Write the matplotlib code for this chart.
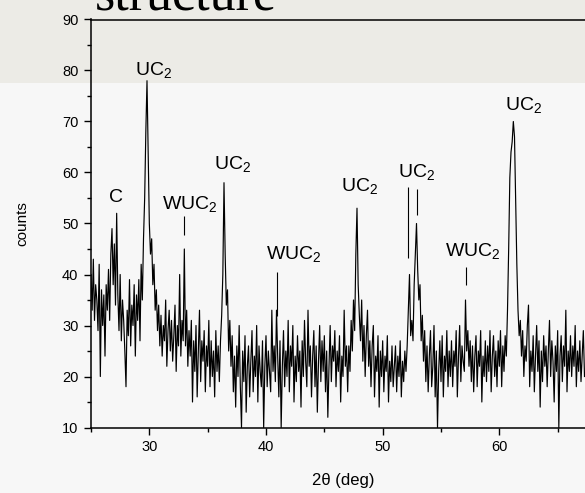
import numpy as np
import matplotlib
matplotlib.use("Agg")
import matplotlib.pyplot as plt
from matplotlib.patches import Rectangle

plt.rcParams['font.family'] = ['Liberation Sans', 'DejaVu Sans']
plt.rcParams['mathtext.fontset'] = 'custom'
plt.rcParams['mathtext.rm'] = 'Liberation Sans'
plt.rcParams['mathtext.default'] = 'regular'

# XRD scan, 0.1 deg steps from 25.0 to 67.3 (one row per degree)
counts = [
    40, 33, 43, 31, 38, 35, 29, 42, 20, 37,  # 25
    30, 36, 24, 38, 33, 41, 31, 44, 49, 38,  # 26
    46, 34, 52, 36, 29, 40, 27, 35, 31, 25,  # 27
    18, 33, 28, 39, 26, 34, 30, 38, 24, 36,  # 28
    31, 39, 27, 42, 35, 47, 55, 68, 78, 64,  # 29
    50, 44, 47, 38, 42, 33, 37, 29, 34, 26,  # 30
    32, 24, 30, 27, 35, 22, 29, 33, 25, 31,  # 31
    23, 28, 34, 21, 30, 26, 40, 24, 31, 27,  # 32
    45, 26, 33, 22, 29, 24, 31, 15, 27, 21,  # 33
    30, 16, 25, 33, 19, 27, 23, 29, 17, 26,  # 34
    22, 31, 18, 27, 20, 25, 16, 29, 21, 26,  # 35
    19, 27, 32, 40, 58, 44, 34, 37, 25, 31,  # 36
    22, 28, 17, 24, 14, 26, 20, 30, 18, 10,  # 37
    25, 19, 28, 13, 22, 26, 16, 23, 29, 17,  # 38
    24, 20, 30, 15, 26, 21, 18, 27, 10, 22,  # 39
    28, 18, 25, 21, 17, 33, 21, 26, 19, 33,  # 40
    24, 16, 27, 10, 22, 29, 18, 25, 20, 31,  # 41
    17, 26, 22, 30, 15, 24, 19, 28, 21, 25,  # 42
    14, 27, 20, 31, 23, 18, 33, 22, 26, 16,  # 43
    24, 29, 18, 26, 13, 23, 30, 19, 27, 21,  # 44
    28, 17, 25, 12, 22, 30, 19, 26, 23, 29,  # 45
    18, 25, 21, 28, 15, 24, 20, 33, 22, 26,  # 46
    17, 26, 21, 31, 25, 35, 29, 44, 53, 38,  # 47
    32, 27, 35, 23, 30, 20, 28, 33, 22, 27,  # 48
    18, 26, 30, 16, 24, 21, 28, 14, 25, 20,  # 49
    27, 17, 24, 21, 28, 15, 23, 19, 26, 18,  # 50
    22, 26, 17, 24, 20, 27, 16, 23, 19, 25,  # 51
    21, 26, 33, 40, 28, 31, 27, 38, 44, 50,  # 52
    41, 35, 38, 27, 32, 23, 29, 19, 26, 17,  # 53
    24, 29, 18, 22, 30, 16, 25, 10, 21, 27,  # 54
    19, 28, 16, 24, 21, 29, 18, 25, 20, 27,  # 55
    18, 25, 22, 29, 16, 24, 30, 19, 26, 23,  # 56
    21, 35, 25, 29, 22, 27, 19, 26, 17, 24,  # 57
    28, 18, 25, 22, 29, 15, 24, 20, 27, 19,  # 58
    26, 21, 29, 17, 24, 28, 20, 25, 18, 27,  # 59
    22, 29, 18, 26, 21, 28, 24, 33, 45, 59,  # 60
    64, 66, 70, 67, 54, 42, 33, 28, 31, 24,  # 61
    29, 20, 26, 23, 30, 34, 18, 25, 21, 28,  # 62
    17, 24, 30, 21, 27, 14, 25, 19, 28, 22,  # 63
    26, 18, 25, 31, 20, 27, 23, 15, 26, 21,  # 64
    29, 10, 24, 28, 19, 26, 22, 33, 17, 25,  # 65
    21, 28, 20, 26, 22, 30, 18, 25, 21, 27,  # 66
    19, 24, 29, 20,                          # 67
]
two_theta = np.round(25.0 + 0.1 * np.arange(len(counts)), 1)

# phase labels: text, label x, label y
peak_labels = ["C", "UC$_2$", "WUC$_2$", "UC$_2$", "WUC$_2$", "UC$_2$", "UC$_2$", "WUC$_2$", "UC$_2$"]
label_x = [27.15, 30.4, 33.5, 37.15, 42.4, 48.05, 52.9, 57.75, 62.1]
label_y = [55.1, 80.1, 53.8, 61.6, 44.0, 57.3, 60.0, 44.7, 73.3]

# short marker lines: x, y from, y to
marker_x = [33.0, 40.9, 52.2, 52.9, 57.1]
marker_y0 = [47.7, 31.9, 43.2, 51.7, 38.0]
marker_y1 = [51.4, 40.5, 57.2, 56.8, 41.5]

W, H = 585, 493
fig = plt.figure(figsize=(W / 100, H / 100), dpi=100, facecolor='#F7F7F7')
# grey slide banner across the top
fig.patches.append(Rectangle((0, 1 - 83 / H), 1, 83 / H, transform=fig.transFigure,
                             facecolor='#ECEBE6', edgecolor='none', zorder=-1))
fig.text(95 / W, 1 - 10 / H, "structure", family=['Liberation Serif', 'DejaVu Serif'],
         fontsize=37.5, va='baseline', ha='left', color='black')

ax = fig.add_axes([91 / W, (H - 427.5) / H, 525 / W, 408 / H])
ax.set_facecolor('none')
ax.plot(two_theta, counts, color='black', linewidth=0.85)

for txt, x, y in zip(peak_labels, label_x, label_y):
    ax.text(x, y, txt, ha='center', va='center', fontsize=14)
ax.vlines(marker_x, marker_y0, marker_y1, color='black', linewidth=0.8)

ax.set_xlim(25, 70)
ax.set_ylim(10, 90)
ax.set_xticks([30, 40, 50, 60])
ax.set_xticks([25, 35, 45, 55, 65], minor=True)
ax.set_yticks(range(10, 91, 10))
ax.set_yticks(range(15, 90, 10), minor=True)
ax.tick_params(which='both', direction='out', labelsize=10.5, width=1, top=False)
ax.tick_params(which='major', length=5, pad=4)
ax.tick_params(which='minor', length=3)
for side in ('left', 'bottom', 'top', 'right'):
    ax.spines[side].set_linewidth(1.1)

ax.set_xlabel("2θ (deg)", fontsize=12)
ax.xaxis.set_label_coords(0.48, -0.112)
ax.set_ylabel("counts", fontsize=11)
ax.yaxis.set_label_coords(-0.118, 0.5)

plt.savefig("out.png", dpi=100, facecolor=fig.get_facecolor())
plt.close()
